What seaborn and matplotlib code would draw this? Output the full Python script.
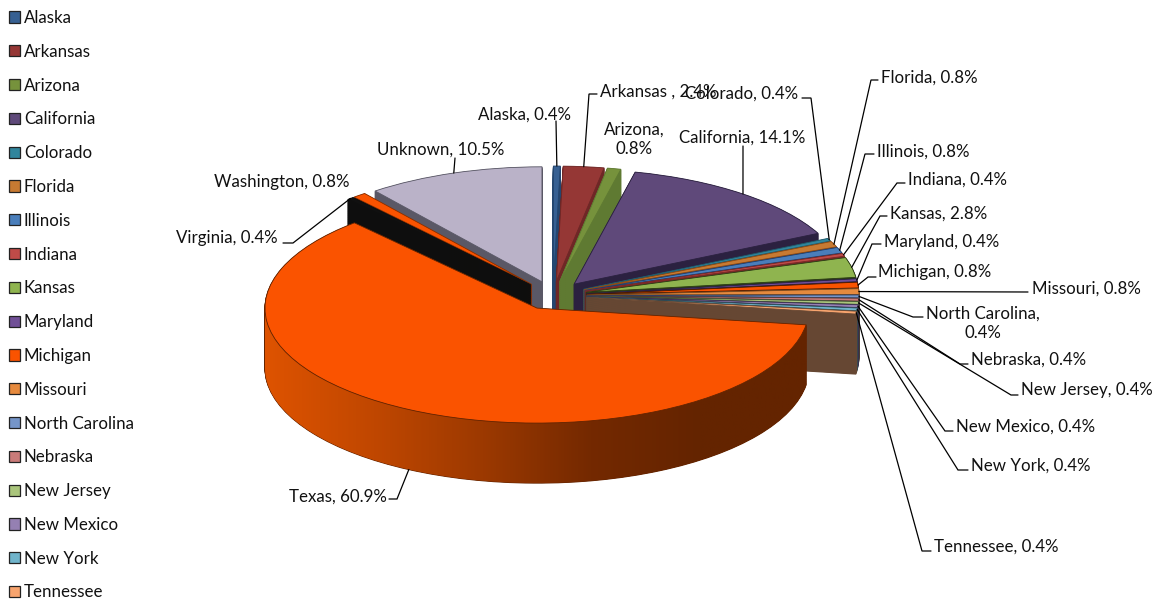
import numpy as np
import matplotlib
matplotlib.use("Agg")
import matplotlib.pyplot as plt
import seaborn as sns
from matplotlib.colors import LinearSegmentedColormap
from matplotlib.patches import Polygon

states = ["Alaska", "Arkansas", "Arizona", "California", "Colorado", "Florida", "Illinois",
          "Indiana", "Kansas", "Maryland", "Michigan", "Missouri", "North Carolina", "Nebraska",
          "New Jersey", "New Mexico", "New York", "Tennessee", "Texas", "Virginia",
          "Washington", "Unknown"]
shares = [0.4, 2.4, 0.8, 14.1, 0.4, 0.8, 0.8, 0.4, 2.8, 0.4, 0.8, 0.8, 0.4, 0.4, 0.4, 0.4, 0.4,
          0.4, 60.9, 0.4, 0.8, 10.5]
top_colors = ["#376092", "#953735", "#76923C", "#5F497A", "#31859C", "#C77A32", "#4A7EBB",
              "#BE4B48", "#8FB44F", "#704F96", "#FA5300", "#E68A3E", "#7595C8", "#CA7B79",
              "#AAC57C", "#9580B2", "#70B4CB", "#F7A46E", "#FA5300", "#101010", "#FA5300",
              "#BAB2C8"]
side_colors = ["#24466F", "#6E2726", "#5F7A32", "#2B2140", "#1F5A6B", "#8F4A12", "#1F3F6F",
               "#7A2826", "#2A3A14", "#2A1F45", "#4A1A00", "#7A4A20", "#2F3F60", "#503838",
               "#3F5030", "#3A2F50", "#2A4A55", "#664733", "#642400", "#0E0E0E", "#8A3000",
               "#5A5866"]

# painter order, back to front
draw_order = ["Unknown"] + states[:18] + ["Washington", "Virginia", "Texas"]

# text position in px (left, vertical centre), then the elbow points of the leader
labels = {
    "Alaska": ("Alaska, 0.4%", 478, 113, [(556, 121)]),
    "Arkansas": ("Arkansas , 2.4%", 600, 90, [(597, 94), (589, 94)]),
    "Arizona": ("Arizona,\n0.8%", 634, 138, None),
    "California": ("California, 14.1%", 679, 136, [(743, 146)]),
    "Colorado": ("Colorado, 0.4%", 685, 92, [(802, 98), (811, 98)]),
    "Florida": ("Florida, 0.8%", 881, 76, [(878, 80), (871, 80)]),
    "Illinois": ("Illinois, 0.8%", 877, 150, [(874, 154), (865, 154)]),
    "Indiana": ("Indiana, 0.4%", 908, 178, [(905, 183), (897, 183)]),
    "Kansas": ("Kansas, 2.8%", 890, 212, [(887, 216), (880, 216)]),
    "Maryland": ("Maryland, 0.4%", 884, 240, [(881, 244), (872, 244)]),
    "Michigan": ("Michigan, 0.8%", 878, 271, [(876, 277), (868, 277)]),
    "Missouri": ("Missouri, 0.8%", 1032, 287, [(1028, 292)]),
    "North Carolina": ("North Carolina,\n0.4%", 983, 322, [(923, 317), (913, 317)]),
    "Nebraska": ("Nebraska, 0.4%", 971, 358, [(968, 364), (960, 364)]),
    "New Jersey": ("New Jersey, 0.4%", 1021, 389, [(1018, 395), (1011, 395)]),
    "New Mexico": ("New Mexico, 0.4%", 956, 425, [(953, 431), (945, 431)]),
    "New York": ("New York, 0.4%", 971, 464, [(968, 470), (958, 470)]),
    "Tennessee": ("Tennessee, 0.4%", 934, 545, [(931, 551), (922, 551)]),
    "Texas": ("Texas, 60.9%", 289, 495, [(389, 499), (397, 499)]),
    "Virginia": ("Virginia, 0.4%", 176, 237, [(283, 243), (293, 243)]),
    "Washington": ("Washington, 0.8%", 214, 180, None),
    "Unknown": ("Unknown, 10.5%", 377, 148, [(455, 158)]),
}

W, H = 1157, 601
CX, CY, RX, RY = 553.0, 295.4, 272.0, 115.0
DEPTH = 60 / RY
EXPLODE = 0.125
FONT = 12.2
TEXT_DY = 1.5

sns.set_theme(style="white")
plt.rcParams["font.family"] = ["Lato", "DejaVu Sans"]

fig = plt.figure(figsize=(W / 100, H / 100), dpi=100)
ax = fig.add_axes([0, 0, 1, 1])


def to_x(px):
    return (px - CX) / RX


def to_y(py):
    return (CY - py) / RY


rank = {s: i for i, s in enumerate(draw_order)}
explode = [EXPLODE] * len(shares)

# extrude by stacking the same pie downwards
for d in np.linspace(DEPTH, 0, 91)[:-1]:
    wedges, _ = ax.pie(shares, explode=explode, startangle=90, counterclock=False, radius=1,
                       center=(0, -d), colors=side_colors,
                       wedgeprops={"linewidth": 0.8, "joinstyle": "round"})
    for w, s, c in zip(wedges, states, side_colors):
        w.set_edgecolor(c)
        w.set_zorder(rank[s] + 0.2)

tops, _ = ax.pie(shares, explode=explode, startangle=90, counterclock=False, radius=1,
                 colors=top_colors, wedgeprops={"linewidth": 0.6, "joinstyle": "round"})
for w, s, c in zip(tops, states, side_colors):
    w.set_edgecolor(c)
    w.set_zorder(rank[s] + 0.5)

# shaded outer wall of the Texas slice
texas = tops[states.index("Texas")]
tx, ty = texas.center
end = (90 - 360 * sum(shares[:states.index("Texas")]) / sum(shares)) % 360
arc = np.radians(np.linspace(180, end, 120))
upper = np.c_[tx + np.cos(arc), ty + np.sin(arc)]
lower = np.c_[tx + np.cos(arc), ty + np.sin(arc) - DEPTH][::-1]
wall = LinearSegmentedColormap.from_list(
    "wall", ["#DE5300", "#C04700", "#9C3900", "#742900", "#642400", "#642400"])
im = ax.imshow(np.linspace(0, 1, 256)[None, :], cmap=wall, aspect="auto",
               extent=(tx - 1, tx + 1, ty - DEPTH - 1, ty + 1), zorder=rank["Texas"] + 0.4)
im.set_clip_path(Polygon(np.r_[upper, lower], transform=ax.transData))

ax.set_aspect("auto")

# labels and their leaders
z = len(states) + 2
for w, s in zip(tops, states):
    text, px, py, elbow = labels[s]
    ha = "center" if "\n" in text else "left"
    ax.text(to_x(px), to_y(py + TEXT_DY), text, fontsize=FONT, color="#111111", ha=ha, va="center",
            linespacing=1.3, zorder=z)
    if elbow is None:
        continue
    mid = np.radians((w.theta1 + w.theta2) / 2)
    ex = w.center[0] + np.cos(mid)
    ey = w.center[1] + np.sin(mid) - (DEPTH if s == "Texas" else 0)
    xs = [to_x(p[0]) for p in elbow] + [ex]
    ys = [to_y(p[1]) for p in elbow] + [ey]
    ax.plot(xs, ys, color="black", lw=0.9, solid_joinstyle="miter", zorder=z)

ax.set_xlim(to_x(0), to_x(W))
ax.set_ylim(to_y(H), to_y(0))

leg = ax.legend(tops[:18], states[:18], loc="upper left", bbox_to_anchor=(9 / W, 1 - 10 / H),
                borderaxespad=0, borderpad=0, frameon=False, fontsize=FONT, handlelength=0.64,
                handleheight=0.64, handletextpad=0.24, labelspacing=1.05,
                labelcolor="#111111")
for h, c in zip(leg.legend_handles, top_colors):
    h.set_edgecolor("#222222")
    h.set_linewidth(0.9)

fig.savefig("out.png", dpi=100)
